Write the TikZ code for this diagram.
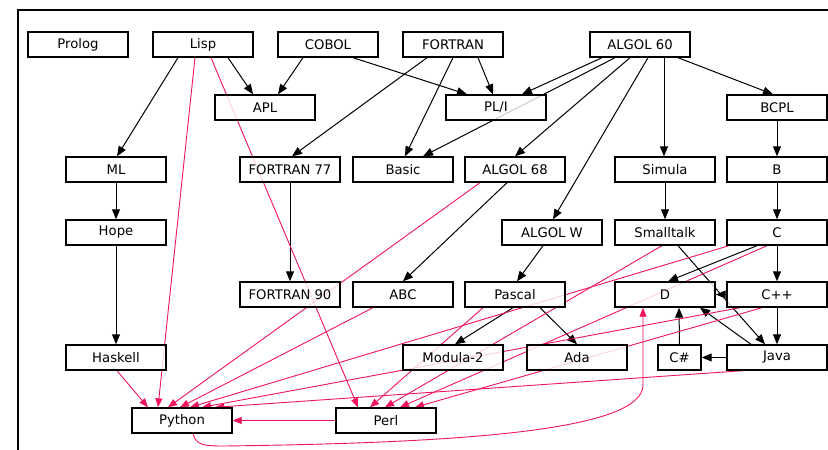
\documentclass[tikz,border=0pt]{standalone}
\usepackage{fontspec}
\setmainfont{DejaVu Sans}
\usetikzlibrary{arrows.meta}
\pgfdeclarelayer{bg}
\pgfsetlayers{bg,main}
\definecolor{infl}{RGB}{240,20,95}
\begin{document}
\begin{tikzpicture}[x=1pt,y=-1pt,
  lang/.style={draw=black, line width=1.4pt, fill=white, fill opacity=0.8, text opacity=1, draw opacity=1,
    minimum width=100pt, minimum height=25pt, inner sep=0pt, font=\fontsize{13.2}{15}\selectfont},
  blk/.style={black, line width=1pt, -{Triangle[length=10pt,width=8pt]}},
  inf/.style={infl, line width=0.9pt, -{Triangle[length=9pt,width=7pt]}}]
\useasboundingbox (0,0) rectangle (828,450);
\draw[line width=1.3pt] (18,470) -- (18,10) -- (850,10);
% row 1
\node[lang] (Prolog) at (78,44.5) {Prolog};
\node[lang] (Lisp) at (203,44.5) {Lisp};
\node[lang] (COBOL) at (328,44.5) {COBOL};
\node[lang] (FORTRAN) at (453,44.5) {FORTRAN};
\node[lang] (A60) at (640,44.5) {ALGOL 60};
% row 2
\node[lang] (APL) at (265,107.5) {APL};
\node[lang] (PLI) at (496,107.5) {PL/I};
\node[lang] (BCPL) at (777,107.5) {BCPL};
% row 3
\node[lang] (ML) at (116,169.5) {ML};
\node[lang] (F77) at (290,169.5) {FORTRAN 77};
\node[lang] (Basic) at (403,169.5) {Basic};
\node[lang] (A68) at (515,169.5) {ALGOL 68};
\node[lang] (Simula) at (665,169.5) {Simula};
\node[lang] (B) at (777,169.5) {B};
% row 4
\node[lang] (Hope) at (116,232.5) {Hope};
\node[lang] (AW) at (552,232.5) {ALGOL W};
\node[lang] (Smalltalk) at (665,232.5) {Smalltalk};
\node[lang] (C) at (777,232.5) {C};
% row 5
\node[lang] (F90) at (290,294.5) {FORTRAN 90};
\node[lang] (ABC) at (403,294.5) {ABC};
\node[lang] (Pascal) at (515,294.5) {Pascal};
\node[lang] (D) at (665,294.5) {D};
\node[lang] (Cpp) at (777,294.5) {C++};
% row 6
\node[lang] (Haskell) at (116,357.5) {Haskell};
\node[lang] (Modula) at (453,357.5) {Modula-2};
\node[lang] (Ada) at (577,357.5) {Ada};
\node[lang, minimum width=43pt] (CS) at (679.5,357.5) {C\#};
\node[lang] (Java) at (777,357.5) {Java};
% row 7
\node[lang] (Python) at (182,420.5) {Python};
\node[lang] (Perl) at (386,420.5) {Perl};

\begin{pgfonlayer}{bg}
% black edges
\draw[blk] ([xshift=-25pt]Lisp.south) -- ([xshift=1pt]ML.north);
\draw[blk] ([xshift=25pt]Lisp.south) -- ([xshift=-12pt]APL.north);
\draw[blk] ([xshift=-25pt]COBOL.south) -- ([xshift=13pt]APL.north);
\draw[blk] ([xshift=25pt]COBOL.south) -- ([xshift=-29pt]PLI.north);
\draw[blk] ([xshift=-26pt]FORTRAN.south) -- ([xshift=2pt]F77.north);
\draw[blk] (FORTRAN.south) -- ([xshift=2pt]Basic.north);
\draw[blk] ([xshift=25pt]FORTRAN.south) -- ([xshift=-3pt]PLI.north);
\draw[blk] ([xshift=-38pt]A60.south) -- ([xshift=26pt]PLI.north);
\draw[blk] ([xshift=-25pt]A60.south) -- ([xshift=20pt]Basic.north);
\draw[blk] ([xshift=-10pt]A60.south) -- (A68.north);
\draw[blk] ([xshift=8pt]A60.south) -- ([xshift=1pt]AW.north);
\draw[blk] ([xshift=24pt]A60.south) -- ([xshift=-1pt]Simula.north);
\draw[blk] ([xshift=38pt]A60.south) -- ([xshift=-4pt]BCPL.north);
\draw[blk] (BCPL) -- (B);
\draw[blk] (B) -- (C);
\draw[blk] (Simula) -- (Smalltalk);
\draw[blk] (ML) -- (Hope);
\draw[blk] (Hope) -- (Haskell);
\draw[blk] (F77) -- (F90);
\draw[blk] ([xshift=-8pt]A68.south) -- (ABC.north);
\draw[blk] ([xshift=-9pt]AW.south) -- ([xshift=2pt]Pascal.north);
\draw[blk] ([xshift=-2pt]Pascal.south) -- ([xshift=2pt]Modula.north);
\draw[blk] ([xshift=25pt]Pascal.south) -- (Ada.north);
\draw[blk] ([xshift=-20pt]C.south) -- ([xshift=3pt]D.north);
\draw[blk] (C) -- (Cpp);
\draw[blk] (Cpp.west) -- (D.east);
\draw[blk] ([xshift=13pt]Smalltalk.south) -- ([xshift=-12pt]Java.north);
\draw[blk] (Cpp) -- (Java);
\draw[blk] (Java.west) -- (CS.east);
\draw[blk] ([xshift=-26pt]Java.north) -- ([xshift=35pt]D.south);
\draw[blk] (CS.north) -- ([xshift=14pt]D.south);
% influence edges
\draw[inf] ([xshift=-8pt]Lisp.south) -- ([xshift=-24pt]Python.north);
\draw[inf] ([xshift=8pt]Lisp.south) -- ([xshift=-28pt]Perl.north);
\draw[inf] ([xshift=1pt]Haskell.south) -- ([xshift=-34pt]Python.north);
\draw[inf] ([xshift=-35pt]A68.south) -- ([xshift=-14pt]Python.north);
\draw[inf] ([xshift=-30pt]ABC.south) -- ([xshift=-2pt]Python.north);
\draw[inf] ([xshift=-48pt]C.south) -- ([xshift=8pt]Python.north);
\draw[inf] ([xshift=-37pt]Cpp.south) -- ([xshift=20pt]Python.north);
\draw[inf] ([xshift=-34pt]Java.south) -- ([xshift=33pt]Python.north);
\draw[inf] ([xshift=-3pt]Smalltalk.south) -- ([xshift=-1pt]Perl.north);
\draw[inf] ([xshift=-32pt]Pascal.south) -- ([xshift=-16pt]Perl.north);
\draw[inf] ([xshift=-10pt]C.south) -- ([xshift=14pt]Perl.north);
\draw[inf] ([xshift=-15pt]Cpp.south) -- ([xshift=29pt]Perl.north);
\draw[inf] (Perl.west) -- (Python.east);
\draw[inf] ([xshift=11pt]Python.south) .. controls +(3,12) and (205,446) .. (225,446)
  .. controls (450,443) and (643,432) .. (643,385) -- ([xshift=-22pt]D.south);
\end{pgfonlayer}
\end{tikzpicture}
\end{document}
